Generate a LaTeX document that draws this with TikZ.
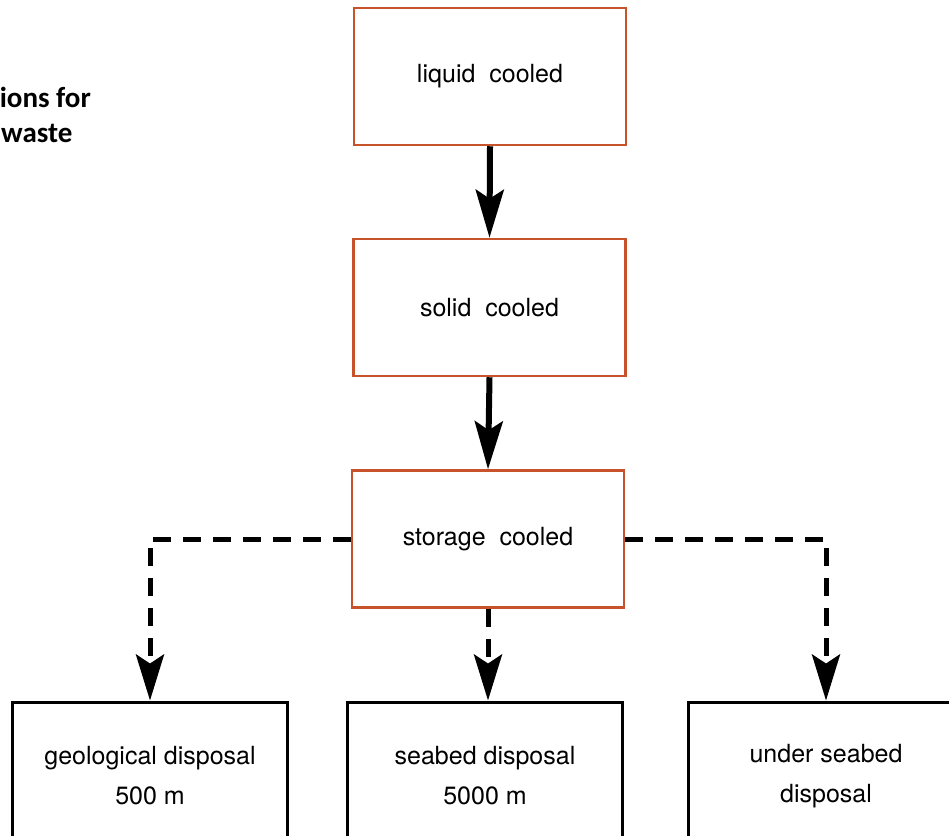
\documentclass[tikz,border=0pt]{standalone}
\usepackage{fontspec}
\setmainfont{TeX Gyre Heros}
\newfontfamily\titlefont{Carlito}
\usetikzlibrary{arrows.meta,positioning}
\definecolor{boxred}{RGB}{200,82,42}
\tikzset{
  stagebox/.style={draw=boxred, line width=2.5pt, minimum width=272pt, minimum height=137pt, inner sep=0pt, align=center, font=\fontsize{25}{40}\selectfont},
  disposalbox/.style={draw=black, line width=3pt, minimum width=275pt, minimum height=148pt, inner sep=0pt, align=center, font=\fontsize{25}{40}\selectfont},
  solidarrow/.style={line width=6pt, -{Stealth[length=48pt,width=28pt,inset=9pt]}},
  dasharrow/.style={line width=5pt, dash pattern=on 18pt off 12pt, line join=miter, -{Stealth[length=46pt,width=28pt,inset=9pt]}},
  titletext/.style={font=\titlefont\bfseries\fontsize{29}{34}\selectfont, inner sep=0pt}
}
\begin{document}
\begin{tikzpicture}[x=1pt,y=-1pt]
\useasboundingbox (0,0) rectangle (949,835);
\node[titletext, anchor=base east] (t1) at (91,107) {ions for};
\node[titletext, anchor=base west] (t2) at (1,142) {waste};
\node[stagebox] (liquid) at (490,76.5) {liquid\ \ cooled};
\node[stagebox] (solid) at (489.5,307.5) {solid\ \ cooled};
\node[stagebox] (storage) at (488,539) {storage\ \ cooled};
\node[disposalbox] (geo) at (150,776) {geological disposal\\500 m};
\node[disposalbox] (seabed) at (485,776) {seabed disposal\\5000 m};
\node[disposalbox] (under) at (826,776) {under seabed\\disposal};
\draw[solidarrow] (liquid.south) -- (solid.north);
\draw[solidarrow] (solid.south) -- (storage.north);
\draw[dasharrow] (storage.west) -| (geo.north);
\draw[dasharrow] (storage.east) -| (under.north);
\draw[dasharrow] (storage.south) -- (storage.south |- seabed.north);
\end{tikzpicture}
\end{document}
